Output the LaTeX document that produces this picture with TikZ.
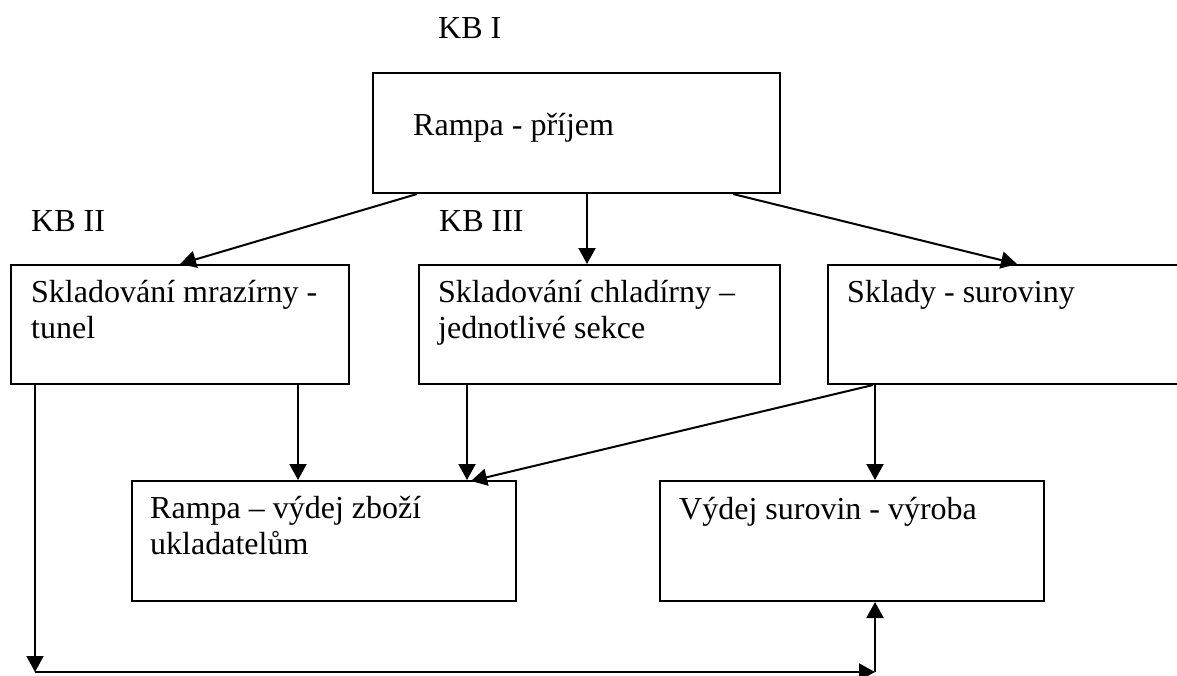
\documentclass[tikz,border=0pt]{standalone}
\usepackage{fontspec}
\setmainfont{Liberation Serif}
\usetikzlibrary{arrows.meta}
\begin{document}
\begin{tikzpicture}[x=1pt,y=-1pt,
  box/.style={draw, line width=2pt, inner sep=0pt, anchor=north west},
  txt/.style={font=\fontsize{32}{36.8}\selectfont, align=left, inner sep=0pt, anchor=north west},
  arr/.style={line width=2pt, -{Triangle[length=16pt,width=17pt]}}]
\useasboundingbox (0,0) rectangle (1177,675);
\clip (0,0) rectangle (1177,675);
% boxes
\node[box, minimum width=407pt, minimum height=120pt] (rec) at (372,72) {};
\node[box, minimum width=338pt, minimum height=119pt] (mraz) at (10,264) {};
\node[box, minimum width=361pt, minimum height=119pt] (chlad) at (418,264) {};
\node[box, minimum width=400pt, minimum height=119pt] (sklad) at (827,264) {};
\node[box, minimum width=384pt, minimum height=120pt] (vydej) at (131,480) {};
\node[box, minimum width=384pt, minimum height=120pt] (vyroba) at (659,480) {};
% texts
\node[txt] (kb1) at (438,12.2) {\strut KB I};
\node[txt] (kb2) at (31,205.2) {\strut KB II};
\node[txt] (kb3) at (439,205.2) {\strut KB III};
\node[txt] (trec) at (413,109.2) {\strut Rampa - příjem};
\node[txt] (tmraz) at (31,276.2) {\strut Skladování mrazírny -\\tunel};
\node[txt] (tchlad) at (438,276.2) {\strut Skladování chladírny –\\jednotlivé sekce};
\node[txt] (tsklad) at (847,276.2) {\strut Sklady - suroviny};
\node[txt] (tvydej) at (150,492.2) {\strut Rampa – výdej zboží\\ukladatelům};
\node[txt] (tvyroba) at (679,493.2) {\strut Výdej surovin - výroba};
% connectors
\draw[arr] ([xshift=45pt]rec.south west) -- ([xshift=170pt]mraz.north west);
\draw[arr] ([xshift=215pt]rec.south west) -- ([xshift=169pt]chlad.north west);
\draw[arr] ([xshift=361pt]rec.south west) -- ([xshift=190pt]sklad.north west);
\draw[arr] ([xshift=288pt]mraz.south west) -- ([xshift=167pt]vydej.north west);
\draw[arr] ([xshift=49pt]chlad.south west) -- ([xshift=336pt]vydej.north west);
\draw[arr] ([xshift=46pt]sklad.south west) -- ([xshift=340pt,yshift=-1pt]vydej.north west);
\draw[arr] ([xshift=48pt]sklad.south west) -- ([xshift=216pt]vyroba.north west);
\coordinate (bl) at (35,672);
\coordinate (br) at (875,672);
\draw[arr] ([xshift=25pt]mraz.south west) -- (bl);
\draw[arr] (bl) -- (br);
\draw[arr] (br) -- ([xshift=216pt]vyroba.south west);
\end{tikzpicture}
\end{document}
